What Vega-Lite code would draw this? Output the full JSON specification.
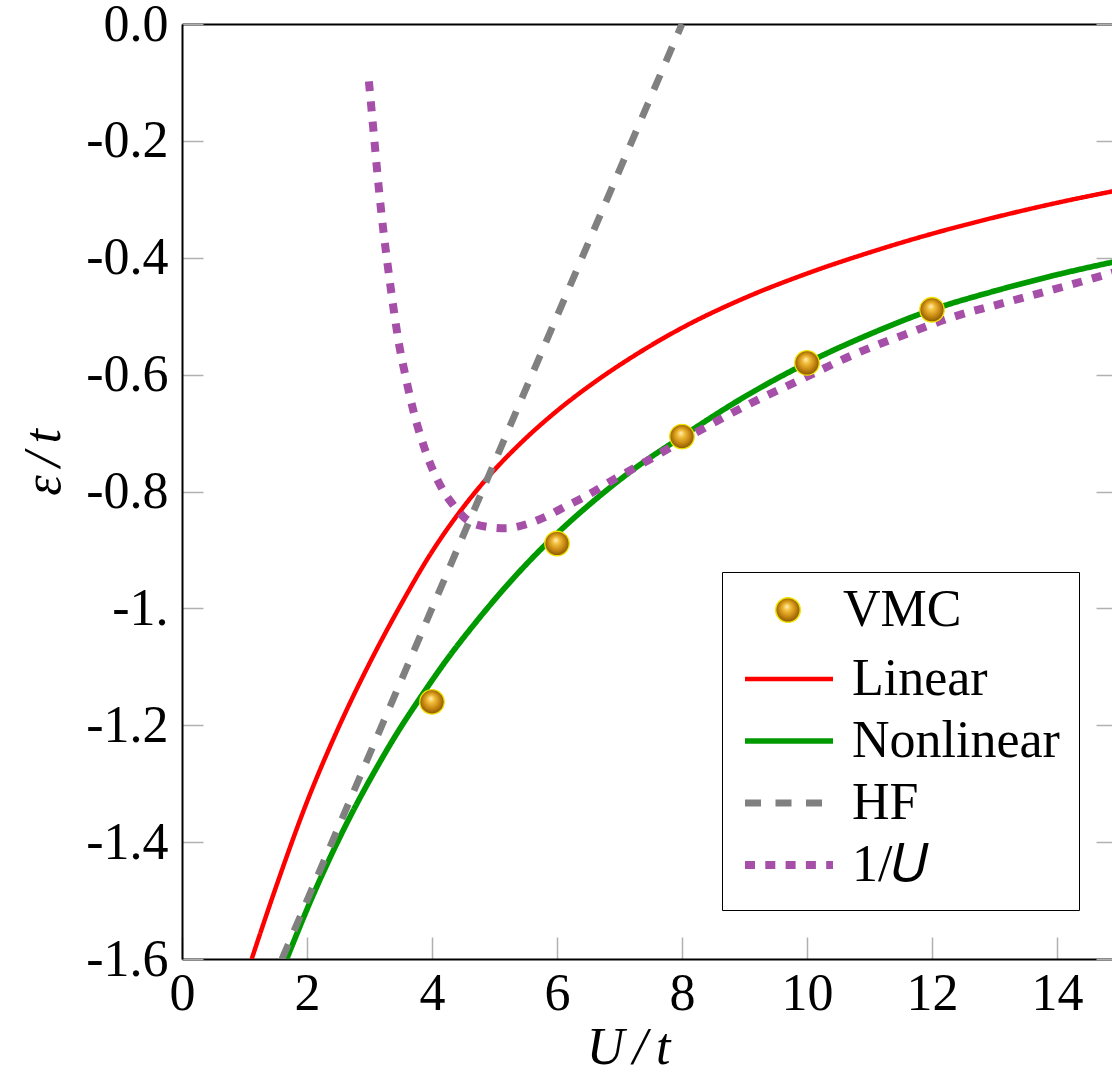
{
  "$schema": "https://vega.github.io/schema/vega-lite/v6.json",
  "width": 930,
  "height": 935,
  "autosize": {"type": "none"},
  "padding": {"left": 182, "top": 24, "right": 0, "bottom": 115},
  "background": "white",
  "config": {
    "view": {"stroke": null},
    "font": "Liberation Serif",
    "axis": {
      "labelFont": "Liberation Serif",
      "labelFontSize": 52,
      "labelColor": "black",
      "titleFont": "Liberation Serif",
      "titleFontSize": 52,
      "titleFontWeight": "normal",
      "titleFontStyle": "italic",
      "titleColor": "black",
      "tickColor": "#b0b0b0",
      "tickWidth": 1.5,
      "grid": false,
      "domainColor": "black",
      "domainWidth": 2,
      "labelFlush": false,
      "labelOverlap": false
    }
  },
  "datasets": {
    "curves": [
      {"series": "Linear", "U": 1.115, "E": -1.6},
      {"series": "Linear", "U": 1.5, "E": -1.478},
      {"series": "Linear", "U": 2.0, "E": -1.331},
      {"series": "Linear", "U": 2.5, "E": -1.205},
      {"series": "Linear", "U": 3.0, "E": -1.094},
      {"series": "Linear", "U": 3.5, "E": -0.994},
      {"series": "Linear", "U": 4.0, "E": -0.903},
      {"series": "Linear", "U": 4.5, "E": -0.827},
      {"series": "Linear", "U": 5.0, "E": -0.763},
      {"series": "Linear", "U": 5.5, "E": -0.709},
      {"series": "Linear", "U": 6.0, "E": -0.662},
      {"series": "Linear", "U": 6.6, "E": -0.613},
      {"series": "Linear", "U": 7.2, "E": -0.57},
      {"series": "Linear", "U": 8.0, "E": -0.52},
      {"series": "Linear", "U": 9.0, "E": -0.469},
      {"series": "Linear", "U": 10.0, "E": -0.427},
      {"series": "Linear", "U": 11.0, "E": -0.391},
      {"series": "Linear", "U": 12.0, "E": -0.359},
      {"series": "Linear", "U": 13.0, "E": -0.331},
      {"series": "Linear", "U": 14.0, "E": -0.306},
      {"series": "Linear", "U": 15.0, "E": -0.284},
      {"series": "Nonlinear", "U": 1.675, "E": -1.6},
      {"series": "Nonlinear", "U": 2.1, "E": -1.49},
      {"series": "Nonlinear", "U": 2.42, "E": -1.415},
      {"series": "Nonlinear", "U": 2.74, "E": -1.346},
      {"series": "Nonlinear", "U": 3.06, "E": -1.283},
      {"series": "Nonlinear", "U": 3.45, "E": -1.212},
      {"series": "Nonlinear", "U": 3.78, "E": -1.158},
      {"series": "Nonlinear", "U": 4.235, "E": -1.088},
      {"series": "Nonlinear", "U": 4.715, "E": -1.022},
      {"series": "Nonlinear", "U": 5.14, "E": -0.968},
      {"series": "Nonlinear", "U": 5.54, "E": -0.921},
      {"series": "Nonlinear", "U": 6.05, "E": -0.867},
      {"series": "Nonlinear", "U": 6.6, "E": -0.815},
      {"series": "Nonlinear", "U": 7.2, "E": -0.764},
      {"series": "Nonlinear", "U": 8.0, "E": -0.706},
      {"series": "Nonlinear", "U": 9.0, "E": -0.638},
      {"series": "Nonlinear", "U": 10.0, "E": -0.58},
      {"series": "Nonlinear", "U": 11.0, "E": -0.531},
      {"series": "Nonlinear", "U": 12.0, "E": -0.489},
      {"series": "Nonlinear", "U": 13.0, "E": -0.457},
      {"series": "Nonlinear", "U": 14.0, "E": -0.429},
      {"series": "Nonlinear", "U": 15.0, "E": -0.405},
      {"series": "HF", "U": 1.6, "E": -1.6},
      {"series": "HF", "U": 4.0, "E": -1.0},
      {"series": "HF", "U": 6.0, "E": -0.5},
      {"series": "HF", "U": 8.0, "E": 0.0},
      {"series": "1/U", "U": 2.99, "E": -0.098},
      {"series": "1/U", "U": 3.027, "E": -0.14},
      {"series": "1/U", "U": 3.087, "E": -0.21},
      {"series": "1/U", "U": 3.149, "E": -0.281},
      {"series": "1/U", "U": 3.219, "E": -0.351},
      {"series": "1/U", "U": 3.3, "E": -0.42},
      {"series": "1/U", "U": 3.389, "E": -0.49},
      {"series": "1/U", "U": 3.491, "E": -0.559},
      {"series": "1/U", "U": 3.555, "E": -0.592},
      {"series": "1/U", "U": 3.7, "E": -0.661},
      {"series": "1/U", "U": 3.89, "E": -0.729},
      {"series": "1/U", "U": 4.155, "E": -0.794},
      {"series": "1/U", "U": 4.34, "E": -0.823},
      {"series": "1/U", "U": 4.555, "E": -0.848},
      {"series": "1/U", "U": 4.85, "E": -0.86},
      {"series": "1/U", "U": 5.18, "E": -0.863},
      {"series": "1/U", "U": 5.515, "E": -0.856},
      {"series": "1/U", "U": 5.82, "E": -0.843},
      {"series": "1/U", "U": 6.13, "E": -0.826},
      {"series": "1/U", "U": 6.39, "E": -0.812},
      {"series": "1/U", "U": 6.95, "E": -0.777},
      {"series": "1/U", "U": 7.52, "E": -0.743},
      {"series": "1/U", "U": 8.08, "E": -0.708},
      {"series": "1/U", "U": 8.65, "E": -0.674},
      {"series": "1/U", "U": 9.27, "E": -0.64},
      {"series": "1/U", "U": 9.89, "E": -0.609},
      {"series": "1/U", "U": 10.74, "E": -0.566},
      {"series": "1/U", "U": 11.7, "E": -0.526},
      {"series": "1/U", "U": 12.26, "E": -0.504},
      {"series": "1/U", "U": 13.23, "E": -0.475},
      {"series": "1/U", "U": 14.19, "E": -0.447},
      {"series": "1/U", "U": 15.0, "E": -0.422}
    ],
    "vmc": [
      {"kind": "VMC", "U": 4, "E": -1.16},
      {"kind": "VMC", "U": 6, "E": -0.889},
      {"kind": "VMC", "U": 8, "E": -0.706},
      {"kind": "VMC", "U": 10, "E": -0.58},
      {"kind": "VMC", "U": 12, "E": -0.489}
    ]
  },
  "resolve": {"axis": {"x": "independent", "y": "independent"}},
  "layer": [
    {
      "data": {"name": "curves"},
      "mark": {"type": "line", "clip": true, "strokeCap": "butt", "interpolate": "monotone"},
      "encoding": {
        "x": {
          "field": "U", "type": "quantitative",
          "scale": {"domain": [0, 14.88], "nice": false, "zero": false},
          "axis": {
            "orient": "bottom",
            "values": [0, 2, 4, 6, 8, 10, 12, 14],
            "format": "d",
            "title": "U\u2006/\u2006t",
            "tickSize": -22,
            "labelPadding": 31,
            "titleX": 446,
            "titleY": 104,
            "titleAlign": "center",
            "titleBaseline": "alphabetic"
          }
        },
        "y": {
          "field": "E", "type": "quantitative",
          "scale": {"domain": [-1.6, 0], "nice": false, "zero": false},
          "axis": {
            "orient": "left",
            "values": [0, -0.2, -0.4, -0.6, -0.8, -1, -1.2, -1.4, -1.6],
            "labelExpr": "datum.value == -1 ? '-1.' : replace(format(datum.value, '.1f'), '\u2212', '-')",
            "title": "ε\u2006/\u2006t",
            "tickSize": -21,
            "labelPadding": 35,
            "titleAngle": -90,
            "titleX": -123,
            "titleY": 438,
            "titleAlign": "center",
            "titleBaseline": "alphabetic"
          }
        },
        "color": {
          "field": "series", "type": "nominal",
          "scale": {
            "domain": ["Linear", "Nonlinear", "HF", "1/U"],
            "range": ["#ff0000", "#009900", "#808080", "#a54fa8"]
          },
          "legend": {
            "title": "\u00a0",
            "titleFont": "Liberation Serif",
            "titleFontSize": 52,
            "titleFontWeight": "normal",
            "titlePadding": 10,
            "titleLimit": 1000,
            "titleAnchor": "start",
            "orient": "none",
            "legendX": 540,
            "legendY": 548,
            "labelFont": "Liberation Serif",
            "labelFontSize": 52,
            "labelColor": "black",
            "labelLimit": 500,
            "labelOffset": 15,
            "labelExpr": "datum.label == '1/U' ? '1/\ud835\udc48' : (datum.label == 'Nonlinear' ? 'Nonlinear\u00a0\u00a0' : datum.label)",
            "symbolType": "stroke",
            "symbolSize": 7744,
            "clipHeight": 52,
            "fillColor": "white",
            "strokeColor": "black",
            "padding": 19,
            "rowPadding": 10,
            "cornerRadius": 0,
            "symbolOpacity": 1,
            "zindex": 1
          }
        },
        "strokeDash": {
          "field": "series", "type": "nominal",
          "scale": {
            "domain": ["Linear", "Nonlinear", "HF", "1/U"],
            "range": [[1, 0], [1, 0], [16, 14.5], [10, 10.3]]
          }
        },
        "strokeWidth": {
          "field": "series", "type": "nominal",
          "scale": {
            "domain": ["Linear", "Nonlinear", "HF", "1/U"],
            "range": [4.5, 8, 9, 10]
          }
        }
      }
    },
    {
      "data": {"name": "vmc"},
      "mark": {
        "type": "point",
        "filled": true,
        "size": 600,
        "opacity": 1,
        "fill": {
          "gradient": "radial",
          "x1": 0.45, "y1": 0.35, "r1": 0,
          "x2": 0.5, "y2": 0.5, "r2": 0.55,
          "stops": [
            {"offset": 0, "color": "#fff3c4"},
            {"offset": 0.25, "color": "#f3c03e"},
            {"offset": 0.6, "color": "#c98a12"},
            {"offset": 1, "color": "#7a4c00"}
          ]
        },
        "stroke": "#f2e200",
        "strokeWidth": 1.3
      },
      "encoding": {
        "x": {
          "field": "U", "type": "quantitative",
          "scale": {"domain": [0, 14.88], "nice": false, "zero": false},
          "axis": {"orient": "top", "ticks": false, "labels": false, "title": null}
        },
        "y": {
          "field": "E", "type": "quantitative",
          "scale": {"domain": [-1.6, 0], "nice": false, "zero": false},
          "axis": {
            "orient": "right",
            "values": [0, -0.2, -0.4, -0.6, -0.8, -1, -1.2, -1.4, -1.6],
            "labels": false,
            "title": null,
            "domain": false,
            "tickSize": -16
          }
        },
        "shape": {
          "field": "kind", "type": "nominal",
          "scale": {"domain": ["VMC"], "range": ["circle"]},
          "legend": {
            "title": null,
            "orient": "none",
            "legendX": 580,
            "legendY": 560,
            "padding": 0,
            "labelFont": "Liberation Serif",
            "labelFontSize": 52,
            "labelColor": "black",
            "labelOffset": 29,
            "labelLimit": 500,
            "symbolSize": 600,
            "symbolOpacity": 1,
            "fillColor": null,
            "strokeColor": null,
            "zindex": 2
          }
        }
      }
    }
  ]
}
